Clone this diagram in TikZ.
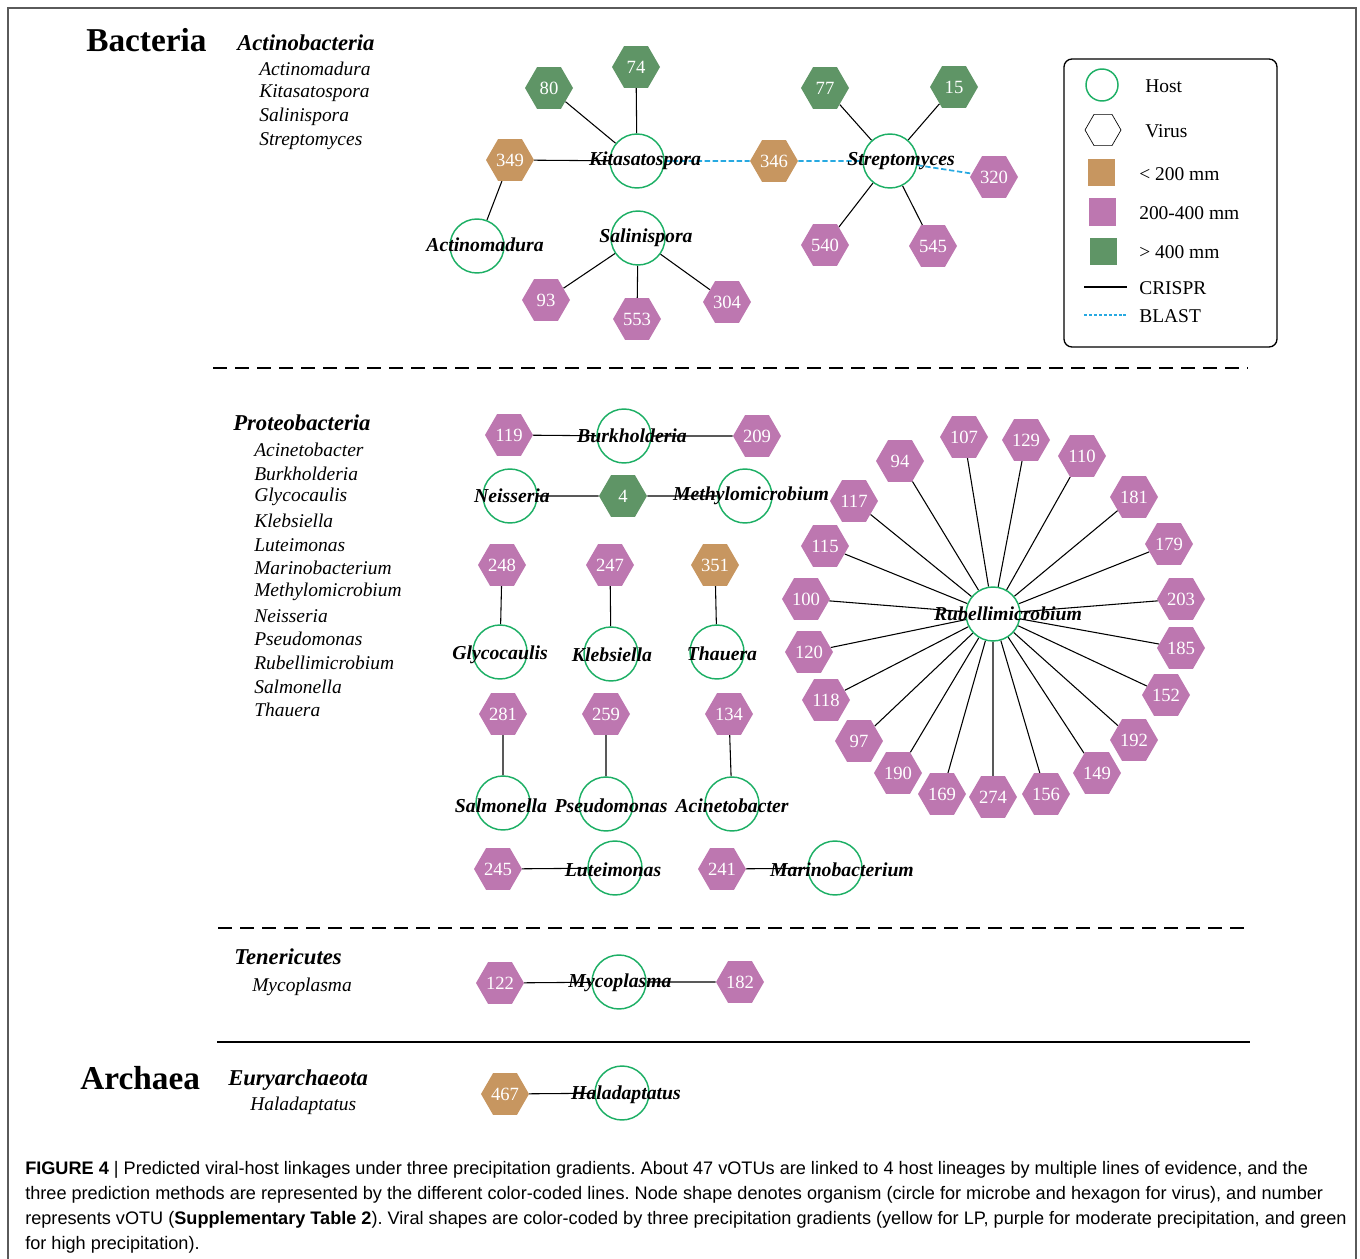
\documentclass[tikz,border=0pt]{standalone}
\usepackage{fontspec}
\setmainfont{Liberation Serif}
\newfontfamily\capfont{Liberation Sans}
\usetikzlibrary{shapes.geometric,backgrounds}
\definecolor{hostgreen}{HTML}{1DAF65}
\definecolor{virtan}{HTML}{C79660}
\definecolor{virpink}{HTML}{BD77B0}
\definecolor{virgreen}{HTML}{5F9566}
\definecolor{blastblue}{HTML}{27A9E1}
\definecolor{framegray}{HTML}{5A5A5A}
\frenchspacing

\begin{document}
\begin{tikzpicture}[x=0.75pt,y=0.75pt,yscale=-1,xscale=1,
  host/.style={circle,draw=hostgreen,line width=1.1pt,minimum size=40.5pt,inner sep=0pt},
  hostname/.style={inner sep=0.75pt,font=\fontsize{14.8}{16}\selectfont\bfseries\itshape},
  virus/.style={regular polygon,regular polygon sides=6,minimum size=36pt,inner sep=0pt,text=white,font=\fontsize{14}{14}\selectfont},
  vlow/.style={virus,fill=virtan},
  vmid/.style={virus,fill=virpink},
  vhigh/.style={virus,fill=virgreen},
  crispr/.style={black,line width=0.8pt},
  blast/.style={blastblue,line width=1.3pt,dash pattern=on 4pt off 2pt},
  divider/.style={black,line width=2pt,dash pattern=on 10.5pt off 6pt},
  kingdom/.style={anchor=west,inner sep=0pt,font=\fontsize{25}{25}\selectfont\bfseries},
  phylum/.style={anchor=west,inner sep=0pt,font=\fontsize{17}{17}\selectfont\bfseries\itshape},
  genus/.style={anchor=west,inner sep=0pt,font=\fontsize{14.6}{15}\selectfont\itshape},
  legtext/.style={anchor=west,inner sep=0pt,font=\fontsize{14.6}{15}\selectfont},
  captext/.style={anchor=base west,inner sep=0pt,font=\capfont\fontsize{13.6}{15}\selectfont}
]
\useasboundingbox (0,0) rectangle (1360,1259);

%Shape: Frame
\draw[framegray,line width=0.9pt] (8,1259) -- (8,8) -- (1356,8) -- (1356,1259);

% Taxonomy lists
\node[kingdom] (bact) at (86,40) {Bacteria};
\node[phylum] (actino) at (237,43) {Actinobacteria};
\node[genus] (g1) at (259,69) {Actinomadura};
\node[genus] (g2) at (259,93) {Kitasatospora};
\node[genus] (g3) at (259,117) {Salinispora};
\node[genus] (g4) at (259,141) {Streptomyces};

\node[phylum] (proteo) at (233,423) {Proteobacteria};
\node[genus] (p1) at (254,450) {Acinetobacter};
\node[genus] (p2) at (254,474) {Burkholderia};
\node[genus] (p3) at (254,497) {Glycocaulis};
\node[genus] (p4) at (254,521) {Klebsiella};
\node[genus] (p5) at (254,545) {Luteimonas};
\node[genus] (p6) at (254,568) {Marinobacterium};
\node[genus] (p7) at (254,592) {Methylomicrobium};
\node[genus] (p8) at (254,616) {Neisseria};
\node[genus] (p9) at (254,639) {Pseudomonas};
\node[genus] (p10) at (254,663) {Rubellimicrobium};
\node[genus] (p11) at (254,687) {Salmonella};
\node[genus] (p12) at (254,710) {Thauera};

\node[phylum] (teneri) at (234,957) {Tenericutes};
\node[genus] (t1) at (252,987) {Mycoplasma};

\node[kingdom] (arch) at (80,1078) {Archaea};
\node[phylum] (eury) at (228,1080) {Euryarchaeota};
\node[genus] (e1) at (250,1106) {Haladaptatus};

% Dividers
\draw[divider] (213,368) -- (1248,368);
\draw[divider] (218,928) -- (1250,928);
\draw[black,line width=1.5pt] (217,1042) -- (1250,1042);

% Actinobacteria hosts
\node[host] (kita) at (637,161) {};
\node[hostname] (kitat) at (645,161) {Kitasatospora};
\node[host] (strep) at (890,161) {};
\node[hostname] (strept) at (901,161) {Streptomyces};
\node[host] (actm) at (477,246) {};
\node[hostname] (actmt) at (485,245) {Actinomadura};
\node[host] (sali) at (638,238) {};
\node[hostname] (salit) at (646,238) {Salinispora};

% Actinobacteria viruses
\node[vhigh] (v80) at (549,88) {80};
\node[vhigh] (v74) at (636,67) {74};
\node[vlow] (v349) at (510,160) {349};
\node[vlow] (v346) at (774,161) {346};
\node[vhigh] (v77) at (825,88) {77};
\node[vhigh] (v15) at (954,87) {15};
\node[vmid] (v320) at (994,177) {320};
\node[vmid] (v540) at (825,245) {540};
\node[vmid] (v545) at (933,246) {545};
\node[vmid] (v93) at (546,300) {93};
\node[vmid] (v553) at (637,319) {553};
\node[vmid] (v304) at (727,302) {304};

% Proteobacteria hosts
\node[host] (burk) at (624,436) {};
\node[hostname] (burkt) at (632,436) {Burkholderia};
\node[host] (neis) at (510,496) {};
\node[hostname] (neist) at (512,496) {Neisseria};
\node[host] (meth) at (745,496) {};
\node[hostname] (metht) at (751,496) {Methylomicrobium};
\node[host] (glyc) at (500,652) {};
\node[hostname] (glyct) at (500,655) {Glycocaulis};
\node[host] (kleb) at (611,654) {};
\node[hostname] (klebt) at (612,655) {Klebsiella};
\node[host] (thau) at (717,652) {};
\node[hostname] (thaut) at (722,654) {Thauera};
\node[host] (salm) at (503,803) {};
\node[hostname] (salmt) at (501,806) {Salmonella};
\node[host] (pseu) at (606,804) {};
\node[hostname] (pseut) at (611,806) {Pseudomonas};
\node[host] (acin) at (732,804) {};
\node[hostname] (acint) at (732,806) {Acinetobacter};
\node[host] (lute) at (615,868) {};
\node[hostname] (lutet) at (613,870) {Luteimonas};
\node[host] (mari) at (835,868) {};
\node[hostname] (marit) at (842,870) {Marinobacterium};
\node[host] (rube) at (993,614) {};
\node[hostname] (rubet) at (1008,614) {Rubellimicrobium};

% Proteobacteria viruses
\node[vmid] (v119) at (509,435) {119};
\node[vmid] (v209) at (757,436) {209};
\node[vhigh] (v4) at (623,496) {4};
\node[vmid] (v248) at (502,565) {248};
\node[vmid] (v247) at (610,565) {247};
\node[vlow] (v351) at (715,565) {351};
\node[vmid] (v281) at (503,714) {281};
\node[vmid] (v259) at (606,714) {259};
\node[vmid] (v134) at (729,714) {134};
\node[vmid] (v245) at (498,869) {245};
\node[vmid] (v241) at (722,869) {241};

% Rubellimicrobium ring
\node[vmid] (v94) at (900,461) {94};
\node[vmid] (v107) at (964,437) {107};
\node[vmid] (v129) at (1026,440) {129};
\node[vmid] (v110) at (1082,456) {110};
\node[vmid] (v181) at (1134,497) {181};
\node[vmid] (v179) at (1169,544) {179};
\node[vmid] (v203) at (1181,599) {203};
\node[vmid] (v185) at (1181,648) {185};
\node[vmid] (v152) at (1166,695) {152};
\node[vmid] (v192) at (1134,740) {192};
\node[vmid] (v149) at (1097,773) {149};
\node[vmid] (v156) at (1046,794) {156};
\node[vmid] (v274) at (993,797) {274};
\node[vmid] (v169) at (942,794) {169};
\node[vmid] (v190) at (898,773) {190};
\node[vmid] (v97) at (859,741) {97};
\node[vmid] (v118) at (826,700) {118};
\node[vmid] (v120) at (809,652) {120};
\node[vmid] (v100) at (806,599) {100};
\node[vmid] (v115) at (825,546) {115};
\node[vmid] (v117) at (854,501) {117};

% Tenericutes and Archaea
\node[host] (myco) at (619,982) {};
\node[hostname] (mycot) at (620,983) {Mycoplasma};
\node[vmid] (v122) at (500,983) {122};
\node[vmid] (v182) at (740,982) {182};
\node[host] (hala) at (622,1093) {};
\node[hostname] (halat) at (626,1095) {Haladaptatus};
\node[vlow] (v467) at (505,1094) {467};

% Connectors
\begin{pgfonlayer}{background}
\draw[crispr] (v80) -- (kita);
\draw[crispr] (v74) -- (kita);
\draw[crispr] (v349) -- (kita);
\draw[crispr] (v349) -- (actm);
\draw[blast] (kita) -- (v346);
\draw[blast] (v346) -- (strep);
\draw[blast] (strep) -- (v320);
\draw[crispr] (v77) -- (strep);
\draw[crispr] (v15) -- (strep);
\draw[crispr] (v540) -- (strep);
\draw[crispr] (v545) -- (strep);
\draw[crispr] (sali) -- (v93);
\draw[crispr] (sali) -- (v553);
\draw[crispr] (sali) -- (v304);

\draw[crispr] (v119) -- (burk);
\draw[crispr] (burk) -- (v209);
\draw[crispr] (neis) -- (v4);
\draw[crispr] (v4) -- (meth);
\draw[crispr] (v248) -- (glyc);
\draw[crispr] (v247) -- (kleb);
\draw[crispr] (v351) -- (thau);
\draw[crispr] (v281) -- (salm);
\draw[crispr] (v259) -- (pseu);
\draw[crispr] (v134) -- (acin);
\draw[crispr] (v245) -- (lute);
\draw[crispr] (v241) -- (mari);

\draw[crispr] (rube) -- (v94);
\draw[crispr] (rube) -- (v107);
\draw[crispr] (rube) -- (v129);
\draw[crispr] (rube) -- (v110);
\draw[crispr] (rube) -- (v181);
\draw[crispr] (rube) -- (v179);
\draw[crispr] (rube) -- (v203);
\draw[crispr] (rube) -- (v185);
\draw[crispr] (rube) -- (v152);
\draw[crispr] (rube) -- (v192);
\draw[crispr] (rube) -- (v149);
\draw[crispr] (rube) -- (v156);
\draw[crispr] (rube) -- (v274);
\draw[crispr] (rube) -- (v169);
\draw[crispr] (rube) -- (v190);
\draw[crispr] (rube) -- (v97);
\draw[crispr] (rube) -- (v118);
\draw[crispr] (rube) -- (v120);
\draw[crispr] (rube) -- (v100);
\draw[crispr] (rube) -- (v115);
\draw[crispr] (rube) -- (v117);

\draw[crispr] (v122) -- (myco);
\draw[crispr] (myco) -- (v182);
\draw[crispr] (v467) -- (hala);
\end{pgfonlayer}

% Legend
\draw[black,line width=1pt,rounded corners=6pt] (1064,59) rectangle (1277,347);
\node[circle,draw=hostgreen,line width=1.1pt,minimum size=24pt,inner sep=0pt] (leghost) at (1102,85) {};
\node[legtext] (leghostt) at (1145,86) {Host};
\node[regular polygon,regular polygon sides=6,draw=black,line width=0.5pt,minimum size=27pt,inner sep=0pt] (legvir) at (1103,130) {};
\node[legtext] (legvirt) at (1145,131) {Virus};
\node[fill=virtan,minimum size=20.25pt,inner sep=0pt] (leglow) at (1101,173) {};
\node[legtext] (leglowt) at (1139,174) {< 200 mm};
\node[fill=virpink,minimum size=20.25pt,inner sep=0pt] (legmid) at (1102,212) {};
\node[legtext] (legmidt) at (1139,213) {200-400 mm};
\node[fill=virgreen,minimum size=20.25pt,inner sep=0pt] (leghigh) at (1103,251) {};
\node[legtext] (leghight) at (1139,252) {> 400 mm};
\coordinate (cra) at (1084,287);
\coordinate (crb) at (1127,287);
\draw[crispr] (cra) -- (crb);
\node[legtext] (legcr) at (1139,288) {CRISPR};
\coordinate (bla) at (1084,315);
\coordinate (blb) at (1126,315);
\draw[blastblue,line width=1.1pt,dash pattern=on 2.5pt off 1.2pt] (bla) -- (blb);
\node[legtext] (legbl) at (1139,316) {BLAST};

% Caption
\node[captext] (cap1) at (25,1174) {\textbf{FIGURE 4} | Predicted viral-host linkages under three precipitation gradients. About 47 vOTUs are linked to 4 host lineages by multiple lines of evidence, and the};
\node[captext] (cap2) at (25,1199) {three prediction methods are represented by the different color-coded lines. Node shape denotes organism (circle for microbe and hexagon for virus), and number};
\node[captext] (cap3) at (25,1224) {represents vOTU (\textbf{Supplementary Table 2}). Viral shapes are color-coded by three precipitation gradients (yellow for LP, purple for moderate precipitation, and green};
\node[captext] (cap4) at (25,1249) {for high precipitation).};

\end{tikzpicture}
\end{document}
